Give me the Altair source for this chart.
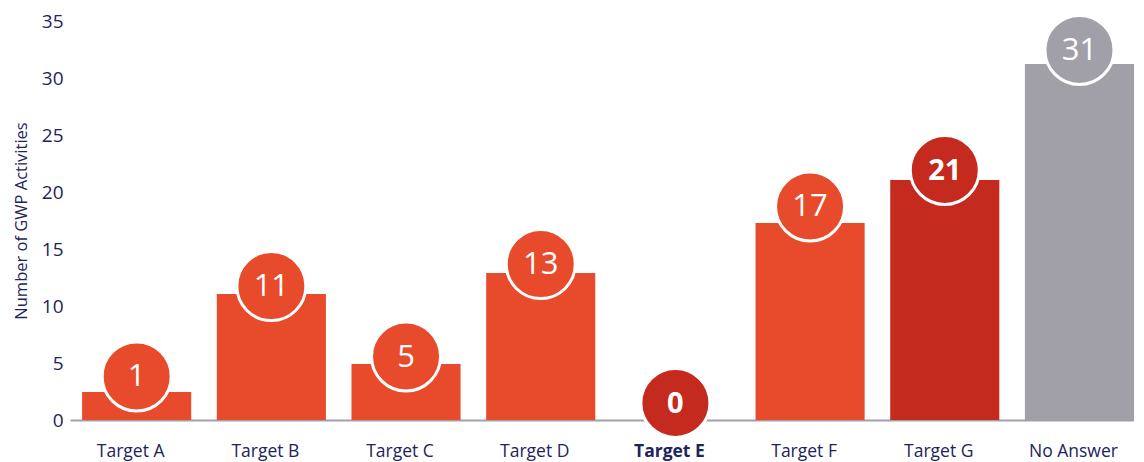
import altair as alt
import pandas as pd

categories = ["Target A", "Target B", "Target C", "Target D", "Target E", "Target F", "Target G", "No Answer"]
bar_values = [2.46, 11.05, 4.91, 12.89, 0, 17.28, 21.05, 31.23]
bubble_values = [3.82, 11.75, 5.57, 13.68, 1.49, 18.73, 21.93, 32.46]
labels = ["1", "11", "5", "13", "0", "17", "21", "31"]
groups = ["main", "main", "main", "main", "highlight", "main", "highlight", "none"]

df = pd.DataFrame({
    "category": categories,
    "value": bar_values,
    "bubble": bubble_values,
    "label": labels,
    "group": groups,
})

FONT = "Open Sans"
NAVY = "#23235B"
color_scale = alt.Scale(domain=["main", "highlight", "none"],
                        range=["#E84A2C", "#C42A1D", "#A1A0A8"])

x_enc = alt.X("category:N", sort=categories,
              scale=alt.Scale(paddingInner=0.19, paddingOuter=0.045, align=1),
              axis=alt.Axis(title=None, labelAngle=0, labelFont=FONT, labelFontSize=17.5,
                            labelColor=NAVY, labelPadding=22, ticks=False,
                            labelOffset=-6,
                            domainColor="#A1A0A8", domainWidth=2,
                            labelFontWeight={"condition": {"test": "datum.value == 'Target E'", "value": "bold"}, "value": "normal"}))

y_scale = alt.Scale(domain=[0, 35])

bars = alt.Chart(df).mark_bar().encode(
    x=x_enc,
    y=alt.Y("value:Q", scale=y_scale,
            axis=alt.Axis(title="Number of GWP Activities", values=[0, 5, 10, 15, 20, 25, 30, 35],
                          grid=False, ticks=False, domain=False,
                          labelFont=FONT, labelFontSize=19, labelColor=NAVY, labelPadding=7,
                          titleFont=FONT, titleFontSize=16.5, titleFontWeight="normal",
                          titleColor=NAVY, titlePadding=12)),
    color=alt.Color("group:N", scale=color_scale, legend=None),
)

bubbles = alt.Chart(df).mark_point(filled=True, shape="circle", size=4761, opacity=1,
                                   stroke="white", strokeWidth=3, strokeOpacity=1).encode(
    x=alt.X("category:N", sort=categories),
    y=alt.Y("bubble:Q", scale=y_scale),
    fill=alt.Fill("group:N", scale=color_scale, legend=None),
)

text_regular = alt.Chart(df).transform_filter("datum.group != 'highlight'").mark_text(
    font=FONT, fontSize=31, color="white", baseline="middle", align="center", dy=1
).encode(
    x=alt.X("category:N", sort=categories),
    y=alt.Y("bubble:Q", scale=y_scale),
    text="label:N",
)

text_bold = alt.Chart(df).transform_filter("datum.group == 'highlight'").mark_text(
    font=FONT, fontSize=29, fontWeight="bold", color="white", baseline="middle", align="center", dy=1
).encode(
    x=alt.X("category:N", sort=categories),
    y=alt.Y("bubble:Q", scale=y_scale),
    text="label:N",
)

chart = alt.layer(bars, bubbles, text_regular, text_bold).properties(
    width=1064, height=399, background="white",
    padding={"left": 5, "top": 1, "right": 0, "bottom": 5},
).configure_view(strokeWidth=0, stroke=None)

chart.save("out.html", embed_options={"renderer": "svg", "actions": False})
